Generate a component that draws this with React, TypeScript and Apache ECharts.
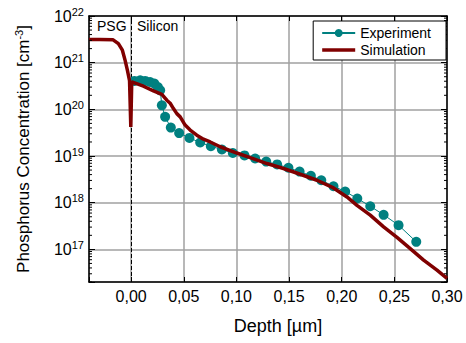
import React, { useEffect, useRef } from 'react';
import * as echarts from 'echarts';

// Experiment (SIMS) points: depth [µm] and phosphorus concentration [cm^-3]
const expDepth = [0.0031, 0.0086, 0.0133, 0.018, 0.0221, 0.0254, 0.0276, 0.0292, 0.0323, 0.0377, 0.0456, 0.0554, 0.0656, 0.0757, 0.0862, 0.0966, 0.1077, 0.1178, 0.1283, 0.1387, 0.1494, 0.16, 0.1707, 0.1806, 0.1922, 0.2033, 0.2148, 0.2271, 0.2398, 0.254, 0.2708];
const expConc = [4.06e20, 4.2e20, 4.06e20, 3.86e20, 3.57e20, 3.0e20, 2.56e20, 1.22e20, 6.9e19, 4.07e19, 3.1e19, 2.44e19, 1.95e19, 1.62e19, 1.38e19, 1.16e19, 1.03e19, 8.84e18, 7.6e18, 6.6e18, 5.6e18, 4.65e18, 3.78e18, 3.03e18, 2.25e18, 1.74e18, 1.23e18, 8.4e17, 5.5e17, 3.3e17, 1.45e17];

// Simulation curve
const simDepth = [-0.04, -0.03, -0.0171, -0.0121, -0.0083, -0.0057, -0.0035, -0.0015, -0.0003, 0.0006, 0.0117, 0.0212, 0.0292, 0.0339, 0.0371, 0.0402, 0.0434, 0.0466, 0.0513, 0.0561, 0.0624, 0.0687, 0.0751, 0.0846, 0.1004, 0.1131, 0.129, 0.1447, 0.1606, 0.1765, 0.1922, 0.205, 0.2145, 0.2271, 0.2398, 0.2525, 0.2651, 0.2778, 0.2905, 0.3];
const simConc = [3.13e21, 3.13e21, 3.09e21, 2.56e21, 1.85e21, 1.12e21, 6.87e20, 4.1e20, 4.2e19, 3.89e20, 3.13e20, 2.48e20, 2.1e20, 1.57e20, 1.35e20, 1.04e20, 8.1e19, 6.9e19, 4.6e19, 3.6e19, 2.8e19, 2.3e19, 2.0e19, 1.58e19, 1.16e19, 9.2e18, 6.9e18, 5.4e18, 4.07e18, 3.03e18, 2.07e18, 1.33e18, 8.8e17, 5.4e17, 3.03e17, 1.8e17, 1.04e17, 5.9e16, 3.6e16, 2.4e16];

const xMin = -0.04;
const xMax = 0.3;
const yMin = 2e16;
const yMax = 1e22;

const regionLabels = ['PSG', 'Silicon'];
const seriesNames = ['Experiment', 'Simulation'];

// log-axis minor tick values (2..9 x 10^n)
const minorTickValues: number[] = [];
for (let e = 16; e <= 21; e++) {
  for (let k = 2; k <= 9; k++) {
    const v = k * Math.pow(10, e);
    if (v >= yMin && v <= yMax) minorTickValues.push(v);
  }
}

const FONT = '"Liberation Sans", Arial, Helvetica, sans-serif';

export default function App() {
  const ref = useRef<HTMLDivElement>(null);
  useEffect(() => {
    if (!ref.current) return;
    const chart = echarts.init(ref.current, null, { renderer: 'svg' });
    const xLabel = (v: number) => {
      if (Math.abs(v) < 1e-9) v = 0;
      const m = Math.round(v / 0.05) * 0.05;
      if (Math.abs(v - m) > 1e-9) return '';
      return m.toFixed(2).replace('-0.00', '0.00').replace('.', ',');
    };
    const yLabel = (v: number) => {
      const e = Math.log10(v);
      const r = Math.round(e);
      if (Math.abs(e - r) > 1e-6) return '';
      return `{b|10}{sup|${r}}`;
    };
    const axisLine = { show: true, onZero: false, lineStyle: { color: '#000', width: 1.5 } };
    const option: any = {
      animation: false,
      textStyle: { fontFamily: FONT },
      grid: { left: 89, right: 19, top: 16, bottom: 61, containLabel: false },
      legend: {
        data: [
          { name: seriesNames[0] },
          { name: seriesNames[1], icon: 'path://M0,0L33,0L33,3.5L0,3.5Z' },
        ],
        orient: 'vertical',
        right: 20,
        top: 21,
        itemWidth: 33,
        itemHeight: 10,
        itemGap: 3,
        padding: [5, 15, 3, 8],
        borderColor: '#000',
        borderWidth: 1,
        backgroundColor: '#fff',
        textStyle: { fontSize: 14, color: '#000', fontFamily: FONT },
        z: 10,
      },
      xAxis: [
        {
          type: 'value',
          min: xMin,
          max: xMax,
          splitNumber: 6,
          axisLine,
          axisTick: { show: true, inside: true, length: 5, lineStyle: { color: '#000', width: 1 } },
          axisLabel: { formatter: xLabel, fontSize: 16, color: '#000', margin: 6, fontFamily: FONT },
          splitLine: { show: true, lineStyle: { color: '#a0a0a0', width: 1.5 } },
          name: 'Depth [µm]',
          nameLocation: 'middle',
          nameGap: 35,
          nameTextStyle: { fontSize: 18, color: '#000', fontFamily: FONT, padding: [0, 0, 0, 20] },
        },
        {
          type: 'value',
          position: 'top',
          min: xMin,
          max: xMax,
          splitNumber: 6,
          axisLine,
          axisTick: { show: true, inside: true, length: 5, lineStyle: { color: '#000', width: 1 } },
          axisLabel: { show: false },
          splitLine: { show: false },
        },
      ],
      yAxis: [
        {
          type: 'log',
          logBase: 10,
          min: yMin,
          max: yMax,
          axisLine,
          axisTick: { show: true, inside: true, length: 6, lineStyle: { color: '#000', width: 1 } },
          axisLabel: {
            formatter: yLabel,
            color: '#000',
            margin: 5,
            rich: {
              b: { fontSize: 16, color: '#000', fontFamily: FONT },
              sup: { fontSize: 11, color: '#000', fontFamily: FONT, verticalAlign: 'bottom', padding: [0, 0, 9, 0] },
            },
          },
          splitLine: { show: true, lineStyle: { color: '#a0a0a0', width: 1.5 } },
          name: 'Phosphorus Concentration [cm{sup|-3}]',
          nameLocation: 'middle',
          nameGap: 55,
          nameTextStyle: {
            fontSize: 17,
            color: '#000',
            fontFamily: FONT,
            rich: {
              sup: { fontSize: 11, color: '#000', fontFamily: FONT, verticalAlign: 'bottom', padding: [0, 0, 10, 0] },
            },
          },
        },
        {
          type: 'log',
          logBase: 10,
          position: 'right',
          min: yMin,
          max: yMax,
          axisLine,
          axisTick: { show: true, inside: true, length: 6, lineStyle: { color: '#000', width: 1 } },
          axisLabel: { show: false },
          splitLine: { show: false },
        },
      ],
      graphic: [
        { type: 'text', left: 97, top: 19, style: { text: regionLabels[0], fontSize: 14, fill: '#000', fontFamily: FONT } },
        { type: 'text', left: 137, top: 19, style: { text: regionLabels[1], fontSize: 14, fill: '#000', fontFamily: FONT } },
      ],
      series: [
        {
          name: seriesNames[0],
          type: 'line',
          data: expDepth.map((d, i) => [d, expConc[i]]),
          symbol: 'circle',
          symbolSize: 10,
          itemStyle: { color: '#008080' },
          lineStyle: { color: '#008080', width: 1 },
          z: 3,
        },
        {
          name: seriesNames[1],
          type: 'line',
          data: simDepth.map((d, i) => [d, simConc[i]]),
          symbol: 'none',
          lineStyle: { color: '#800000', width: 3.5 },
          itemStyle: { color: '#800000' },
          z: 4,
          markLine: {
            silent: true,
            symbol: ['none', 'none'],
            label: { show: false },
            lineStyle: { color: '#000', type: [4, 2], width: 1 },
            data: [{ xAxis: 0 }],
            z: 2,
          },
        },
        {
          name: 'minorTicks',
          type: 'custom',
          silent: true,
          clip: false,
          z: 5,
          data: minorTickValues.map((v) => [xMin, v]),
          encode: { x: 0, y: 1 },
          renderItem: (params: any, api: any) => {
            const p = api.coord([xMin, api.value(1)]);
            const cs = params.coordSys;
            const y = p[1];
            return {
              type: 'group',
              children: [
                { type: 'line', shape: { x1: cs.x, y1: y, x2: cs.x + 3, y2: y }, style: { stroke: '#000', lineWidth: 1 } },
                { type: 'line', shape: { x1: cs.x + cs.width, y1: y, x2: cs.x + cs.width - 3, y2: y }, style: { stroke: '#000', lineWidth: 1 } },
              ],
            };
          },
        },
      ],
    };
    chart.setOption(option);
    return () => chart.dispose();
  }, []);
  return <div ref={ref} style={{ position: 'absolute', left: 0, top: 0, width: 466, height: 343 }} />;
}
